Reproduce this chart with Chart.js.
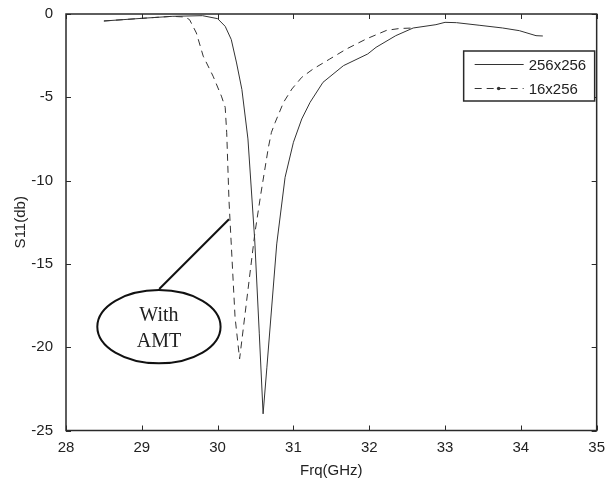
<!DOCTYPE html>
<html>
<head>
<meta charset="utf-8">
<script src="https://cdn.jsdelivr.net/npm/chart.js@4/dist/chart.umd.min.js"></script>
<style>
  body { margin: 0; background: #fff; }
  canvas { display: block; }
</style>
</head>
<body>
<canvas id="s11Chart" width="605" height="478"></canvas>
<script>
// values
const freq256 = [28.5, 29.0, 29.4, 29.8, 30.0, 30.1, 30.18, 30.25, 30.32, 30.40, 30.49, 30.55, 30.60,
                 30.65, 30.78, 30.89, 31.0, 31.11, 31.22, 31.39, 31.66, 31.98, 32.09, 32.35, 32.58,
                 32.88, 33.0, 33.15, 33.46, 33.76, 33.98, 34.2, 34.29];
const s11_256 = [-0.42, -0.26, -0.14, -0.10, -0.28, -0.74, -1.53, -2.94, -4.53, -7.5, -13.6, -19.2, -24.0,
                 -21.2, -13.8, -9.8, -7.7, -6.3, -5.3, -4.1, -3.1, -2.4, -2.0, -1.3, -0.84,
                 -0.64, -0.5, -0.52, -0.68, -0.84, -1.0, -1.3, -1.32];

const freq16 = [28.5, 29.0, 29.4, 29.57, 29.63, 29.72, 29.81, 29.94, 30.05, 30.10, 30.12, 30.15, 30.23, 30.29,
                30.49, 30.57, 30.67, 30.71, 30.76, 30.87, 30.98, 31.11, 31.26, 31.48, 31.70, 31.96,
                32.23, 32.40, 32.58];
const s11_16 = [-0.42, -0.26, -0.14, -0.18, -0.34, -1.14, -2.53, -3.73, -4.93, -5.6, -7.13, -11.2, -18.2, -20.7,
                -13.2, -10.8, -8.0, -7.1, -6.5, -5.3, -4.5, -3.8, -3.3, -2.7, -2.1, -1.5,
                -0.98, -0.87, -0.84];

const seriesNames = ['256x256', '16x256'];
const xTicks = [28, 29, 30, 31, 32, 33, 34, 35];
const yTicks = [-25, -20, -15, -10, -5, 0];

// callout "With AMT" in data units
const calloutCenter = [29.226, -18.77];
const calloutRadius = [0.813, 2.2];
const calloutLine = [[29.23, -16.51], [30.15, -12.32]];
const calloutText = ['With', 'AMT'];

const ink = '#2a2a2a';
const sansFont = "'Liberation Sans', Arial, sans-serif";

function toPoints(xs, ys) {
  return xs.map((x, i) => ({ x: x, y: ys[i] }));
}

const matlabLook = {
  id: 'matlabLook',
  afterDraw(chart) {
    const ctx = chart.ctx;
    const a = chart.chartArea;
    const xs = chart.scales.x;
    const ys = chart.scales.y;
    ctx.save();

    // box + inward ticks
    ctx.strokeStyle = ink;
    ctx.lineWidth = 1.5;
    ctx.strokeRect(a.left, a.top, a.right - a.left, a.bottom - a.top);
    ctx.lineWidth = 1;
    ctx.beginPath();
    xTicks.forEach(v => {
      const px = Math.round(xs.getPixelForValue(v)) + 0.5;
      ctx.moveTo(px, a.bottom); ctx.lineTo(px, a.bottom - 5);
      ctx.moveTo(px, a.top); ctx.lineTo(px, a.top + 5);
    });
    yTicks.forEach(v => {
      const py = Math.round(ys.getPixelForValue(v)) + 0.5;
      ctx.moveTo(a.left, py); ctx.lineTo(a.left + 5, py);
      ctx.moveTo(a.right, py); ctx.lineTo(a.right - 5, py);
    });
    ctx.stroke();

    // callout
    const cx = xs.getPixelForValue(calloutCenter[0]);
    const cy = ys.getPixelForValue(calloutCenter[1]);
    const rx = Math.abs(xs.getPixelForValue(calloutCenter[0] + calloutRadius[0]) - cx);
    const ry = Math.abs(ys.getPixelForValue(calloutCenter[1] + calloutRadius[1]) - cy);
    ctx.strokeStyle = '#111';
    ctx.lineWidth = 2;
    ctx.beginPath();
    ctx.ellipse(cx, cy, rx, ry, 0, 0, Math.PI * 2);
    ctx.stroke();
    ctx.beginPath();
    ctx.moveTo(xs.getPixelForValue(calloutLine[0][0]), ys.getPixelForValue(calloutLine[0][1]));
    ctx.lineTo(xs.getPixelForValue(calloutLine[1][0]), ys.getPixelForValue(calloutLine[1][1]));
    ctx.stroke();
    ctx.fillStyle = '#222';
    ctx.font = "20px 'Liberation Serif', 'Times New Roman', serif";
    ctx.textAlign = 'center';
    ctx.textBaseline = 'middle';
    ctx.fillText(calloutText[0], cx, cy - 11);
    ctx.fillText(calloutText[1], cx, cy + 15);

    // legend box, top right inside the axes
    const lx = a.right - 133, ly = a.top + 37, lw = 131, lh = 50;
    ctx.fillStyle = '#fff';
    ctx.fillRect(lx, ly, lw, lh);
    ctx.strokeStyle = ink;
    ctx.lineWidth = 1.5;
    ctx.strokeRect(lx, ly, lw, lh);
    chart.data.datasets.forEach((ds, i) => {
      const y = ly + 13.5 + i * 24;
      ctx.strokeStyle = ds.borderColor;
      ctx.lineWidth = 1;
      ctx.setLineDash(ds.borderDash || []);
      ctx.beginPath();
      ctx.moveTo(lx + 11, y); ctx.lineTo(lx + 60, y);
      ctx.stroke();
      ctx.setLineDash([]);
      if (ds.borderDash) {
        ctx.fillStyle = ds.borderColor;
        ctx.beginPath();
        ctx.arc(lx + 35, y, 1.8, 0, Math.PI * 2);
        ctx.fill();
      }
      ctx.fillStyle = '#222';
      ctx.font = '15px ' + sansFont;
      ctx.textAlign = 'left';
      ctx.textBaseline = 'middle';
      ctx.fillText(ds.label, lx + 65, y + 1);
    });
    ctx.restore();
  }
};

const ctx = document.getElementById('s11Chart').getContext('2d');
new Chart(ctx, {
  type: 'line',
  data: {
    datasets: [{
      label: seriesNames[0],
      data: toPoints(freq256, s11_256),
      borderColor: '#333',
      borderWidth: 1,
      pointRadius: 0,
      tension: 0
    }, {
      label: seriesNames[1],
      data: toPoints(freq16, s11_16),
      borderColor: '#333',
      borderWidth: 1,
      borderDash: [7, 5],
      pointRadius: 0,
      tension: 0
    }]
  },
  options: {
    responsive: false,
    animation: false,
    layout: { padding: { top: 13, right: 8, left: 0, bottom: 0 } },
    plugins: {
      legend: { display: false },
      tooltip: { enabled: false }
    },
    scales: {
      x: {
        type: 'linear',
        min: 28,
        max: 35,
        afterBuildTicks: s => { s.ticks = xTicks.map(v => ({ value: v })); },
        afterFit: s => { s.height = 47.5; },
        grid: { display: false },
        border: { display: false },
        ticks: { color: '#222', font: { size: 15, family: sansFont }, padding: 0, maxRotation: 0 },
        title: { display: true, text: 'Frq(GHz)', color: '#222', font: { size: 15, family: sansFont }, padding: { top: 0, bottom: -2 } }
      },
      y: {
        type: 'linear',
        min: -25,
        max: 0,
        afterBuildTicks: s => { s.ticks = yTicks.map(v => ({ value: v })); },
        afterFit: s => { s.width = 66; },
        grid: { display: false },
        border: { display: false },
        ticks: { color: '#222', font: { size: 15, family: sansFont }, padding: 5 },
        title: { display: true, text: 'S11(db)', color: '#222', font: { size: 15, family: sansFont }, padding: { top: 12, bottom: 0 } }
      }
    }
  },
  plugins: [matlabLook]
});
</script>
</body>
</html>
